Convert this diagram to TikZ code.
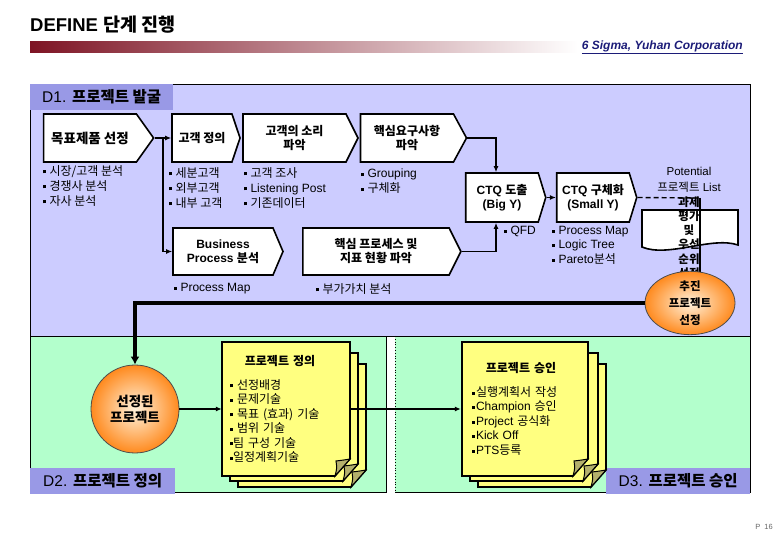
\documentclass[tikz,border=0pt]{standalone}
\usepackage{fontspec}
\setmainfont{Liberation Sans}
\newfontfamily\kr{Noto Sans CJK KR}
\usepackage{tikz}
\usetikzlibrary{arrows.meta,shapes.symbols,shapes.geometric,calc}
\definecolor{lav}{HTML}{CCCCFF}
\definecolor{lavdark}{HTML}{9999E6}
\definecolor{mint}{HTML}{B3FFCC}
\definecolor{notey}{HTML}{FFFF80}
\definecolor{foldc}{HTML}{B4B06C}
\definecolor{barred}{HTML}{7E1424}
\definecolor{navy}{HTML}{1C1C78}
\definecolor{ballin}{HTML}{FFF2DC}
\definecolor{ballout}{HTML}{FF8A1E}
\newcommand\bl{\rule[1.8pt]{3pt}{3pt}}

\begin{document}
\begin{tikzpicture}[x=1pt,y=-1pt,>={Latex[length=6pt,width=5pt]},
  proc/.style={signal,signal to=east,draw,line width=1.6pt,fill=white,minimum height=48,inner sep=1pt,align=center,font=\bfseries\fontsize{12}{14}\selectfont},
  bul/.style={anchor=north west,inner sep=0pt,align=left,font=\fontsize{12}{15}\selectfont},
  link/.style={line width=1.4pt,->},
  orb/.style={draw=black!70,line width=0.8pt,inner color=ballin,outer color=ballout,align=center,inner sep=0pt,font=\kr\bfseries\fontsize{11.5}{17}\selectfont},
  sheet/.style={fill=notey,draw,line width=1.6pt},
  fold/.style={fill=foldc,draw,line width=1pt},
  tag/.style={fill=lavdark,anchor=north west,minimum height=26,inner sep=0pt,font=\fontsize{15.5}{17}\selectfont},
  notetext/.style={minimum width=128,minimum height=134,inner sep=0pt,align=left,font=\fontsize{12}{14.5}\selectfont}]
\useasboundingbox (0,0) rectangle (780,540);
\node[anchor=west,inner sep=0pt,font=\bfseries\fontsize{18.5}{20}\selectfont] (title) at (30,25) {DEFINE {\kr 단계 진행}};
\shade[left color=barred,right color=white] (30,42) rectangle (578,53);
\node[anchor=east,inner sep=0pt,text=navy,font=\bfseries\itshape\fontsize{12}{14}\selectfont] (corp) at (743,47) {\underline{6 Sigma, Yuhan Corporation}};
\filldraw[fill=lav,line width=0.8pt] (30,84) rectangle (750,336);
\filldraw[fill=mint,line width=0.8pt] (30,336) rectangle (386,492);
\fill[mint] (395,336) rectangle (750,492);
\draw[line width=0.8pt] (395,336) -- (750,336) -- (750,492) -- (395,492);
\draw[dotted,line width=0.8pt] (395,336) -- (395,492);
\node[tag,minimum width=143] (d1tag) at (30,84) {D1. {\kr\bfseries 프로젝트 발굴}};
\node[tag,minimum width=145] (d2tag) at (30,468) {D2. {\kr\bfseries 프로젝트 정의}};
\node[tag,minimum width=144] (d3tag) at (606,468) {D3. {\kr\bfseries 프로젝트 승인}};
\node[proc,minimum width=110,signal pointer angle=109,font=\bfseries\fontsize{13.5}{15}\selectfont] (goal) at (90,138) {{\kr 목표제품 선정}};
\node[proc,minimum width=68,signal pointer angle=143] (cust) at (202,138) {{\kr 고객 정의}};
\node[proc,minimum width=115,signal pointer angle=127] (voc) at (294.5,138) {{\kr 고객의 소리}\\{\kr 파악}};
\node[proc,minimum width=106,signal pointer angle=123] (need) at (407,138) {{\kr 핵심요구사항}\\{\kr 파악}};
\node[proc,minimum width=110,minimum height=47,signal pointer angle=134] (bpa) at (223,251.5) {Business\\Process {\kr 분석}};
\node[proc,minimum width=158,minimum height=47,signal pointer angle=127] (kpi) at (376,251.5) {{\kr 핵심 프로세스 및}\\{\kr 지표 현황 파악}};
\node[proc,minimum width=80,minimum height=49,signal pointer angle=146] (ctqa) at (502,197.5) {CTQ {\kr 도출}\\(Big Y)};
\node[proc,minimum width=80,minimum height=49,signal pointer angle=146] (ctqb) at (593,197.5) {CTQ {\kr 구체화}\\(Small Y)};
\node[bul] (goallist) at (43,165) {\bl\ {\kr 시장/고객 분석}\\\bl\ {\kr 경쟁사 분석}\\\bl\ {\kr 자사 분석}};
\node[bul] (custlist) at (169,167) {\bl\ {\kr 세분고객}\\\bl\ {\kr 외부고객}\\\bl\ {\kr 내부 고객}};
\node[bul] (voclist) at (244,167) {\bl\ {\kr 고객 조사}\\\bl\ Listening Post\\\bl\ {\kr 기존데이터}};
\node[bul] (needlist) at (361,169) {\bl\ Grouping\\\bl\ {\kr 구체화}};
\node[bul] (bpalist) at (174,283) {\bl\ Process Map};
\node[bul] (kpilist) at (316,283) {\bl\ {\kr 부가가치 분석}};
\node[bul] (ctqalist) at (504,226) {\bl\ QFD};
\node[bul,font=\fontsize{12}{14.5}\selectfont] (ctqblist) at (552,226) {\bl\ Process Map\\\bl\ Logic Tree\\\bl\ Pareto{\kr 분석}};
\draw[link] (goal.east) -- (cust.west);
\draw[link] ($(goal.east)!0.5!(cust.west)$) |- (bpa.west);
\draw[link] (need.east) -| ([xshift=-6pt]ctqa.north);
\draw[link] (kpi.east) -| ([xshift=-6pt]ctqa.south);
\draw[link,densely dashed] (ctqa.east) -- (ctqb.west);
\coordinate (potj) at (700,198);
\filldraw[fill=white,line width=1.6pt] (642,210) -- (738,210) -- (738,245) .. controls (712,236) and (668,258) .. (642,247) -- cycle;
\draw[line width=1.4pt,dash pattern=on 5pt off 3pt] (ctqb.east) -- (potj);
\node[inner sep=0pt,align=center,font=\fontsize{11.5}{16}\selectfont] (potlist) at (689,180) {Potential\\{\kr 프로젝트} List};
\draw[line width=1.4pt] (potj) -- (potj |- 0,278);
\node[inner sep=0pt,align=center,font=\kr\bfseries\fontsize{11.5}{14.2}\selectfont] (rank) at (689,237.5) {과제\\평가\\및\\우선\\순위\\선정};
\node[orb,ellipse,minimum width=90,minimum height=52] (pick) at (690,303) {추진\\프로젝트\\선정};
\node[orb,circle,minimum size=88,font=\kr\bfseries\fontsize{13.5}{16}\selectfont] (chosen) at (135,409) {선정된\\프로젝트};
\draw[line width=3.5pt,-{Latex[length=8pt,width=9pt]}] (pick.west) -| (chosen.north);
\foreach \xa/\ya/\xb/\yb in {238/364/366/487,230/353/358/481,222/342/350/476,478/364/606/487,470/353/598/481,462/342/588/476} {
  \filldraw[sheet] (\xa,\ya) -- (\xb,\ya) -- (\xb,\yb-17) -- (\xb-15,\yb) -- (\xa,\yb) -- cycle;
  \filldraw[fold] (\xb,\yb-17) .. controls (\xb-6,\yb-16) .. (\xb-14,\yb-15) .. controls (\xb-13,\yb-8) .. (\xb-15,\yb) -- cycle;
}
\node[notetext,text width=112] (defnote) at (286,409) {\makebox[100pt]{\kr\bfseries 프로젝트 정의}\\[9pt]\bl\ {\kr 선정배경}\\\bl\ {\kr 문제기술}\\\bl\ {\kr 목표 (효과) 기술}\\\bl\ {\kr 범위 기술}\\\bl{\kr 팀 구성 기술}\\\bl{\kr 일정계획기술}};
\node[notetext,text width=106] (appnote) at (525,409) {\makebox[98pt]{\kr\bfseries 프로젝트 승인}\\[9pt]\bl\kern1pt{\kr 실행계획서 작성}\\\bl\kern1pt Champion {\kr 승인}\\\bl\kern1pt Project {\kr 공식화}\\\bl\kern1pt Kick Off\\\bl\kern1pt PTS{\kr 등록}};
\draw[link] (chosen.east) -- (defnote.west);
\draw[link] (defnote.east) -- (appnote.west);
\node[anchor=east,inner sep=0pt,text=black!60,font=\fontsize{7.5}{9}\selectfont] (pnum) at (773,527) {P\ \ 16};
\end{tikzpicture}
\end{document}
